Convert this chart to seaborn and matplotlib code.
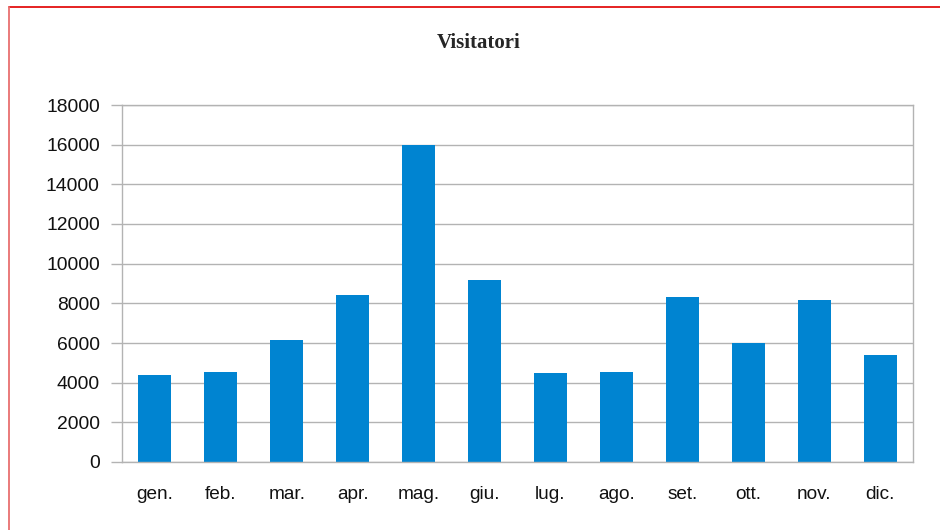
import numpy as np
import pandas as pd
import matplotlib
matplotlib.use("Agg")
import matplotlib.pyplot as plt
from matplotlib.lines import Line2D
import seaborn as sns

# Data
mesi = ["gen.", "feb.", "mar.", "apr.", "mag.", "giu.",
        "lug.", "ago.", "set.", "ott.", "nov.", "dic."]
visitatori = [4370, 4520, 6140, 8420, 16000, 9180,
              4490, 4540, 8320, 6000, 8160, 5400]
y_ticks = list(range(0, 18001, 2000))

df = pd.DataFrame({"mese": mesi, "visitatori": visitatori})

sns.set_style("white")
plt.rcParams['font.family'] = ['Liberation Sans', 'DejaVu Sans']

fig = plt.figure(figsize=(9.4, 5.3), dpi=100)
ax = fig.add_axes([122 / 940, 68 / 530, 791 / 940, 357 / 530])

sns.barplot(data=df, x="mese", y="visitatori", order=mesi, color="#0084d1",
            saturation=1, width=0.5, linewidth=0, ax=ax)

grid_col = "#b3b3b3"
ax.set_xlim(-0.5, len(mesi) - 0.5)
ax.set_ylim(0, 18000)
ax.set_yticks(y_ticks)
ax.yaxis.grid(True, color=grid_col, linewidth=1)
ax.set_axisbelow(True)
for s in ax.spines.values():
    s.set_color(grid_col)
    s.set_linewidth(1)

ax.set_xlabel("")
ax.set_ylabel("")
ax.set_xticks(np.arange(len(mesi)))
ax.set_xticks(np.arange(-0.5, len(mesi)), minor=True)
ax.tick_params(axis="x", which="major", length=0, pad=17, labelsize=13.7, labelcolor="#111111")
ax.tick_params(axis="x", which="minor", length=8, width=1, color=grid_col, direction="out")
ax.tick_params(axis="y", length=8, width=1, color=grid_col, direction="out", pad=8,
               labelsize=13.9, labelcolor="#111111")
ax.tick_params(left=True, bottom=True)

fig.text(479 / 940, 1 - 43 / 530, "Visitatori", ha="center", va="center",
         family=["Liberation Serif", "DejaVu Serif"], fontweight="bold", fontsize=15)

# red frame around the chart
fig.add_artist(Line2D([8.5 / 940, 1.0], [1 - 6.5 / 530] * 2, transform=fig.transFigure,
                      color="#e31010", linewidth=1.3))
fig.add_artist(Line2D([8.5 / 940] * 2, [0.0, 1 - 6.5 / 530], transform=fig.transFigure,
                      color="#e87070", linewidth=1.3))

fig.savefig("out.png", dpi=100)
